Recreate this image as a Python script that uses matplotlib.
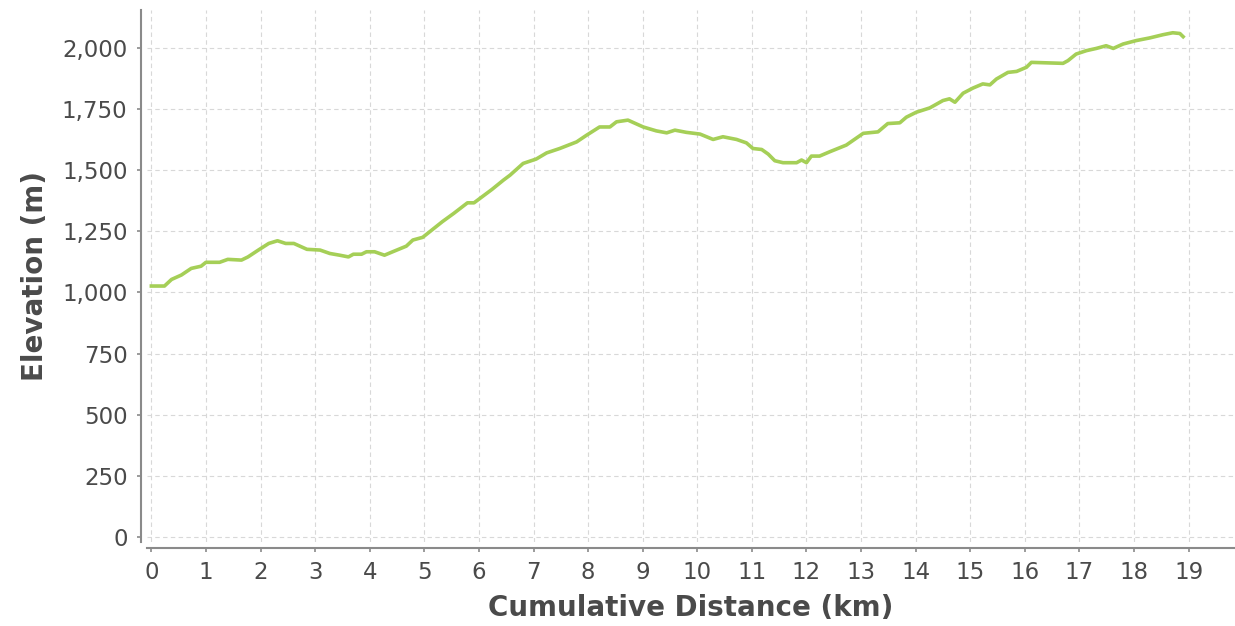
import matplotlib
matplotlib.use("Agg")
import matplotlib.pyplot as plt
from matplotlib.ticker import FuncFormatter

# elevation profile (km, m)
distance_km = [
    0.00, 0.24, 0.37, 0.55, 0.73, 0.91, 1.00, 1.25, 1.40, 1.65, 1.77, 1.96,
    2.15, 2.31, 2.46, 2.61, 2.85, 3.09, 3.27, 3.45, 3.61, 3.70, 3.85, 3.94,
    4.09, 4.27, 4.42, 4.67, 4.79, 4.97, 5.15, 5.33, 5.54, 5.79, 5.91, 6.06,
    6.24, 6.45, 6.57, 6.81, 7.05, 7.24, 7.48, 7.79, 7.97, 8.21, 8.40, 8.52,
    8.73, 9.01, 9.25, 9.44, 9.59, 9.80, 10.05, 10.29, 10.47, 10.72, 10.90,
    11.02, 11.18, 11.30, 11.42, 11.57, 11.82, 11.91, 12.00, 12.09, 12.24,
    12.43, 12.73, 13.04, 13.31, 13.49, 13.71, 13.83, 14.01, 14.26, 14.50,
    14.62, 14.72, 14.87, 15.05, 15.23, 15.36, 15.48, 15.69, 15.85, 16.03,
    16.12, 16.70, 16.79, 16.94, 17.13, 17.31, 17.49, 17.62, 17.80, 18.04,
    18.29, 18.53, 18.71, 18.84, 18.90,
]
elevation_m = [
    1026, 1026, 1053, 1071, 1098, 1107, 1123, 1123, 1135, 1132, 1145, 1173,
    1200, 1211, 1200, 1200, 1176, 1173, 1159, 1152, 1145, 1156, 1156, 1166,
    1166, 1152, 1166, 1189, 1214, 1225, 1257, 1289, 1323, 1366, 1366, 1391,
    1421, 1459, 1479, 1527, 1545, 1570, 1588, 1615, 1642, 1676, 1676, 1697,
    1704, 1676, 1660, 1652, 1663, 1654, 1647, 1625, 1636, 1625, 1611,
    1588, 1584, 1565, 1538, 1530, 1530, 1541, 1530, 1557, 1557,
    1575, 1602, 1650, 1656, 1690, 1693, 1716, 1736, 1754, 1784,
    1791, 1777, 1814, 1835, 1852, 1848, 1872, 1899, 1903, 1920,
    1940, 1936, 1947, 1974, 1988, 1997, 2008, 1997, 2015, 2029,
    2040, 2053, 2061, 2058, 2045,
]

x_ticks = list(range(0, 20))
y_ticks = list(range(0, 2001, 250))

line_color = "#a5cf57"
axis_color = "#8a8a8a"
text_color = "#4a4a4a"

fig = plt.figure(figsize=(12.35, 6.26), dpi=100)
ax = fig.add_axes([147 / 1235, (626 - 542) / 626, (1235 - 147) / 1235, (542 - 10) / 626])

ax.plot(distance_km, elevation_m, color=line_color, linewidth=2.6,
        solid_joinstyle="round", zorder=3)

ax.set_xlim(-0.08, 19.85)
ax.set_ylim(-20, 2154)
ax.set_xticks(x_ticks)
ax.set_yticks(y_ticks)
ax.yaxis.set_major_formatter(FuncFormatter(lambda v, p: f"{int(v):,}"))

ax.grid(True, color="#d8d8d8", linestyle=(0, (4, 3)), linewidth=0.8, zorder=0)

for side in ["top", "right"]:
    ax.spines[side].set_visible(False)
for side in ["left", "bottom"]:
    ax.spines[side].set_position(("outward", 4))
    ax.spines[side].set_color(axis_color)
    ax.spines[side].set_linewidth(1.5)

ax.tick_params(axis="both", direction="out", length=3, width=1.2,
               color=axis_color, labelcolor=text_color, labelsize=16.5, pad=7)

ax.set_xlabel("Cumulative Distance (km)", fontsize=20, fontweight="bold",
              color=text_color, labelpad=7)
ax.set_ylabel("Elevation (m)", fontsize=20, fontweight="bold",
              color=text_color, labelpad=9)

fig.savefig("out.png", dpi=100)
